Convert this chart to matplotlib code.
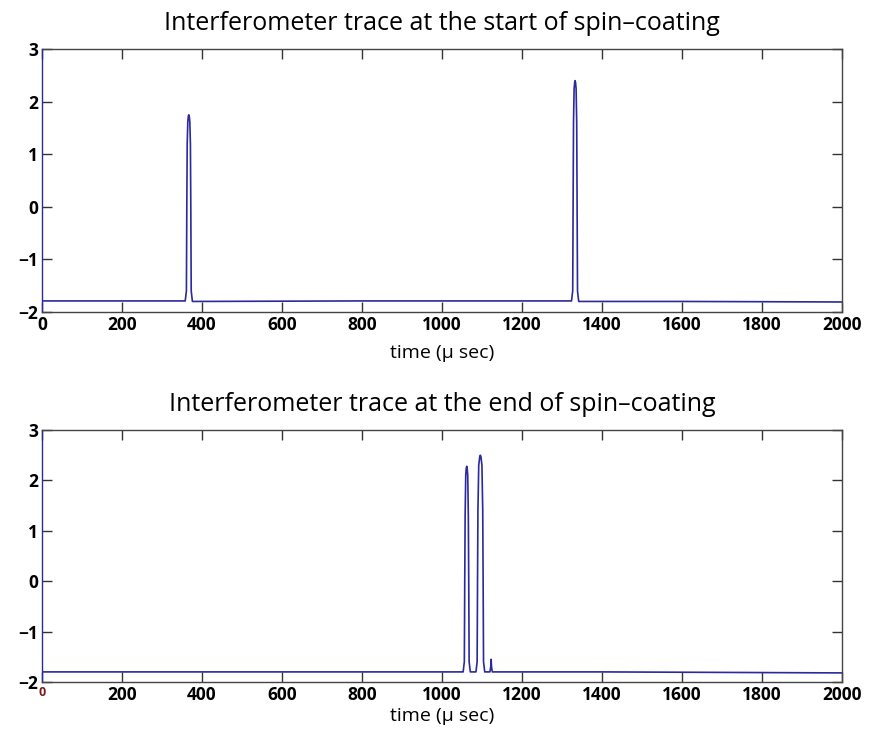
import matplotlib
matplotlib.use("Agg")
import matplotlib.pyplot as plt

# ---- data ----
titles = ["Interferometer trace at the start of spin\u2013coating",
          "Interferometer trace at the end of spin\u2013coating"]
xlabel = "time (\u03bc sec)"
xticks = [0, 200, 400, 600, 800, 1000, 1200, 1400, 1600, 1800, 2000]
yticks = [-2, -1, 0, 1, 2, 3]

start_t = [0, 200, 358, 361, 362, 363, 364.5, 366, 367, 368, 369.5, 371, 372, 373, 376, 800, 1200,
           1324, 1327, 1328, 1329, 1330.5, 1332, 1333, 1334, 1335.5, 1337, 1338, 1339, 1342, 1600, 2000]
start_v = [-1.79, -1.79, -1.79, -1.60, 0.00, 1.20, 1.62, 1.73, 1.75, 1.73, 1.62, 1.20, 0.00, -1.60, -1.80,
           -1.79, -1.79,
           -1.79, -1.60, 0.00, 1.60, 2.25, 2.37, 2.40, 2.37, 2.25, 1.60, 0.00, -1.60, -1.80, -1.80, -1.81]

end_t = [0, 400, 800, 1053, 1056, 1057, 1058, 1059.5, 1061, 1062, 1063, 1064.5, 1066, 1067, 1068, 1071,
         1085, 1088, 1089, 1090, 1092, 1094.5, 1096, 1097.5, 1100, 1102, 1103, 1104, 1107,
         1120, 1122, 1123, 1124, 1126, 1400, 2000]
end_v = [-1.80, -1.80, -1.80, -1.80, -1.60, 0.00, 1.30, 2.10, 2.25, 2.28, 2.25, 2.10, 1.30, 0.00, -1.60, -1.80,
         -1.80, -1.60, 0.00, 1.40, 2.30, 2.47, 2.50, 2.47, 2.30, 1.40, 0.00, -1.60, -1.80,
         -1.80, -1.70, -1.55, -1.70, -1.80, -1.80, -1.82]

traces = [(start_t, start_v), (end_t, end_v)]

# ---- style ----
plt.rcParams['font.family'] = ['Open Sans', 'DejaVu Sans']
line_color = '#2a2a9e'

fig = plt.figure(figsize=(8.76, 7.51), dpi=100)
rects = [[0.048, 0.5846, 0.913, 0.350], [0.048, 0.0919, 0.913, 0.3355]]
xlabel_pads = [7, 2]

for i, (rect, (t, v), title) in enumerate(zip(rects, traces, titles)):
    ax = fig.add_axes(rect)
    ax.plot(t, v, color=line_color, lw=1.2)
    ax.set_xlim(0, 2000)
    ax.set_ylim(-2, 3)
    ax.set_xticks(xticks)
    ax.set_yticks(yticks)
    ax.set_xticklabels([str(x) for x in xticks])
    ax.set_yticklabels(['\u2212' + str(-y) if y < 0 else str(y) for y in yticks])
    ax.tick_params(direction='in', top=True, right=True, length=7, width=1,
                   labelsize=12.5, pad=3, colors='#333333', labelcolor='black')
    for lab in ax.get_xticklabels() + ax.get_yticklabels():
        lab.set_fontweight('bold')
    for s in ax.spines.values():
        s.set_color('#444444')
        s.set_linewidth(1.0)
    ax.spines['left'].set_color(line_color)
    ax.set_title(title, fontsize=18, pad=14)
    ax.set_xlabel(xlabel, fontsize=14, labelpad=xlabel_pads[i])
    if i == 1:
        lab0 = ax.get_xticklabels()[0]
        lab0.set_fontsize(9)
        lab0.set_color('#7a1a1a')

fig.savefig('out.png', dpi=100, facecolor='white')
